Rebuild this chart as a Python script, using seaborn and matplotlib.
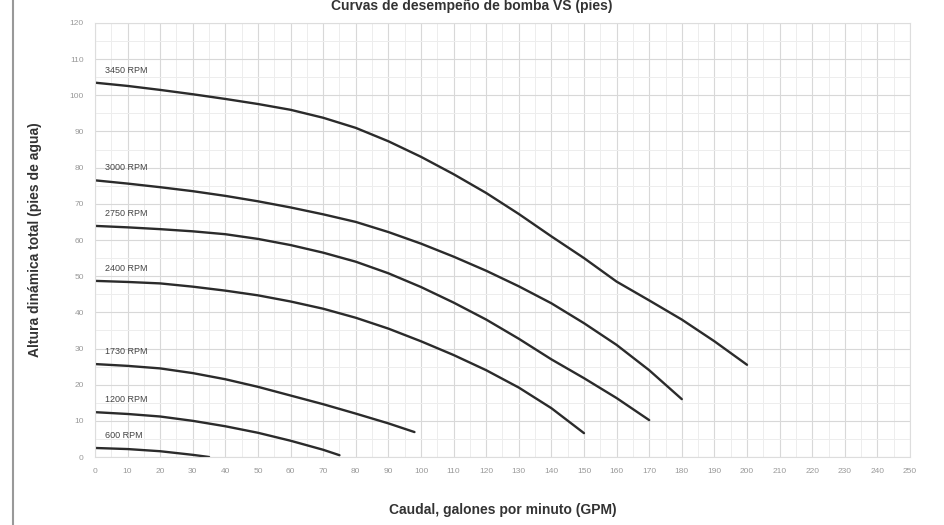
import pandas as pd
import numpy as np
import matplotlib
matplotlib.use("Agg")
import matplotlib.pyplot as plt
import seaborn as sns
from matplotlib.lines import Line2D

# ----- DATA: pump curves -----
rpm_labels = ["3450 RPM", "3000 RPM", "2750 RPM", "2400 RPM", "1730 RPM", "1200 RPM", "600 RPM"]

flow_3450 = list(range(0, 201, 10))
head_3450 = [103.5, 102.6, 101.5, 100.3, 99, 97.6, 96, 93.8, 91, 87.3, 83,
             78.2, 73, 67.2, 61, 55, 48.5, 43.3, 38, 32, 25.5]

flow_3000 = list(range(0, 181, 10))
head_3000 = [76.5, 75.6, 74.6, 73.5, 72.2, 70.7, 69, 67.1, 65, 62.2, 59,
             55.4, 51.5, 47.2, 42.5, 37, 31, 24, 16]

flow_2750 = list(range(0, 171, 10))
head_2750 = [63.9, 63.5, 63, 62.4, 61.6, 60.3, 58.6, 56.5, 54, 50.8, 47,
             42.7, 38, 32.7, 27, 21.8, 16.3, 10.2]

flow_2400 = list(range(0, 151, 10))
head_2400 = [48.7, 48.4, 48, 47.1, 46, 44.7, 43, 41, 38.5, 35.5, 32,
             28.2, 24, 19.2, 13.5, 6.6]

flow_1730 = [0, 10, 20, 30, 40, 50, 60, 70, 80, 90, 98]
head_1730 = [25.7, 25.2, 24.5, 23.2, 21.5, 19.4, 17, 14.6, 12, 9.3, 6.9]

flow_1200 = [0, 10, 20, 30, 40, 50, 60, 70, 75]
head_1200 = [12.4, 11.9, 11.2, 10, 8.5, 6.7, 4.5, 2, 0.5]

flow_600 = [0, 10, 20, 30, 35]
head_600 = [2.5, 2.2, 1.6, 0.6, 0]

x_ticks = list(range(0, 251, 10))
y_ticks = list(range(0, 121, 10))

title = "Curvas de desempeño de bomba VS (pies)"
x_label = "Caudal, galones por minuto (GPM)"
y_label = "Altura dinámica total (pies de agua)"

flows = [flow_3450, flow_3000, flow_2750, flow_2400, flow_1730, flow_1200, flow_600]
heads = [head_3450, head_3000, head_2750, head_2400, head_1730, head_1200, head_600]
frames = []
for lab, q, h in zip(rpm_labels, flows, heads):
    frames.append(pd.DataFrame({"flow": q, "head": h, "rpm": lab}))
data = pd.concat(frames, ignore_index=True)

# ----- PLOT -----
sns.set_style("white")
plt.rcParams["font.family"] = ["Liberation Sans", "DejaVu Sans"]

fig = plt.figure(figsize=(9.44, 5.25), dpi=100)
ax = fig.add_axes([0.1006, 0.1295, 0.8634, 0.8267])

for lab in rpm_labels:
    sub = data[data["rpm"] == lab]
    sns.lineplot(data=sub, x="flow", y="head", color="#2b2b2b", linewidth=1.7,
                 ax=ax, legend=False, estimator=None, sort=False)
    first = sub.iloc[0]
    ax.text(first["flow"] + 3, first["head"] + 2.2, lab, fontsize=6.5,
            color="#444444", ha="left", va="bottom")

ax.set_xlim(0, 250)
ax.set_ylim(0, 120)
ax.set_xticks(x_ticks)
ax.set_yticks(y_ticks)
ax.set_xticks(np.arange(0, 251, 5), minor=True)
ax.set_yticks(np.arange(0, 121, 5), minor=True)
ax.grid(which="major", color="#d8d8d8", linewidth=0.8)
ax.grid(which="minor", color="#ededed", linewidth=0.7)
ax.set_axisbelow(True)
ax.tick_params(axis="both", which="both", length=0, labelsize=6,
               labelcolor="#999999", pad=8)
for s in ax.spines.values():
    s.set_color("#dddddd")
    s.set_linewidth(0.8)

ax.set_xlabel(x_label, fontsize=10, fontweight="bold", color="#333333", labelpad=20)
ax.set_ylabel(y_label, fontsize=10, fontweight="bold", color="#333333", labelpad=20)
fig.text(0.5, 0.988, title, ha="center", va="center", fontsize=10,
         fontweight="bold", color="#333333")

# left frame line of the page
fig.add_artist(Line2D([0.0135, 0.0135], [0, 1], color="#999999", linewidth=1.5))

fig.savefig("out.png", dpi=100, facecolor="white")
plt.close(fig)
